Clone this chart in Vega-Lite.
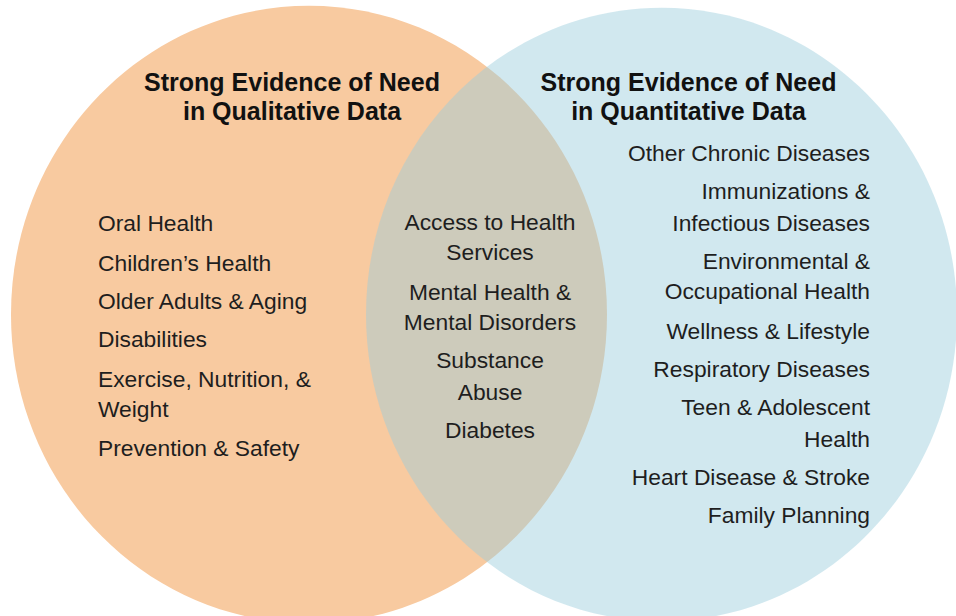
{
  "$schema": "https://vega.github.io/schema/vega-lite/v6.json",
  "width": 956,
  "height": 616,
  "autosize": {"type": "none"},
  "padding": 0,
  "background": "white",
  "config": {"view": {"stroke": null}},
  "datasets": {
    "circles": [
      {"set": "Qualitative", "cx": 309, "cy": 314.5},
      {"set": "Quantitative", "cx": 661.5, "cy": 314.5}
    ],
    "labels": [
      {"group": "title", "text": "Strong Evidence of Need", "x": 292, "y": 90.5},
      {"group": "title", "text": "in Qualitative Data", "x": 292, "y": 120},
      {"group": "title", "text": "Strong Evidence of Need", "x": 688.5, "y": 90.5},
      {"group": "title", "text": "in Quantitative Data", "x": 688.5, "y": 120},
      {"group": "left", "text": "Oral Health", "x": 98, "y": 230.5},
      {"group": "left", "text": "Children’s Health", "x": 98, "y": 270.5},
      {"group": "left", "text": "Older Adults & Aging", "x": 98, "y": 309},
      {"group": "left", "text": "Disabilities", "x": 98, "y": 347},
      {"group": "left", "text": "Exercise, Nutrition, &", "x": 98, "y": 386.5},
      {"group": "left", "text": "Weight", "x": 98, "y": 416.5},
      {"group": "left", "text": "Prevention & Safety", "x": 98, "y": 455.5},
      {"group": "center", "text": "Access to Health", "x": 490, "y": 229.5},
      {"group": "center", "text": "Services", "x": 490, "y": 259.5},
      {"group": "center", "text": "Mental Health &", "x": 490, "y": 300},
      {"group": "center", "text": "Mental Disorders", "x": 490, "y": 330},
      {"group": "center", "text": "Substance", "x": 490, "y": 368},
      {"group": "center", "text": "Abuse", "x": 490, "y": 400},
      {"group": "center", "text": "Diabetes", "x": 490, "y": 438},
      {"group": "right", "text": "Other Chronic Diseases", "x": 870, "y": 160.5},
      {"group": "right", "text": "Immunizations &", "x": 870, "y": 198.5},
      {"group": "right", "text": "Infectious Diseases", "x": 870, "y": 230.5},
      {"group": "right", "text": "Environmental &", "x": 870, "y": 268.5},
      {"group": "right", "text": "Occupational Health", "x": 870, "y": 298.5},
      {"group": "right", "text": "Wellness & Lifestyle", "x": 870, "y": 338.5},
      {"group": "right", "text": "Respiratory Diseases", "x": 870, "y": 376.5},
      {"group": "right", "text": "Teen & Adolescent", "x": 870, "y": 414.5},
      {"group": "right", "text": "Health", "x": 870, "y": 446.5},
      {"group": "right", "text": "Heart Disease & Stroke", "x": 870, "y": 484.5},
      {"group": "right", "text": "Family Planning", "x": 870, "y": 522.5}
    ]
  },
  "encoding": {
    "x": {"field": "x", "type": "quantitative", "scale": {"domain": [0, 956], "nice": false, "zero": false}, "axis": null},
    "y": {"field": "y", "type": "quantitative", "scale": {"domain": [616, 0], "nice": false, "zero": false}, "axis": null}
  },
  "layer": [
    {
      "data": {"name": "circles"},
      "transform": [{"filter": "datum.set === 'Qualitative'"}],
      "mark": {"type": "point", "shape": "M -1 0 A 1 1.036 0 1 0 1 0 A 1 1.036 0 1 0 -1 0 Z", "size": 355216, "filled": true, "color": "#f8caa0", "opacity": 1, "strokeWidth": 0},
      "encoding": {
        "x": {"field": "cx", "type": "quantitative"},
        "y": {"field": "cy", "type": "quantitative"}
      }
    },
    {
      "data": {"name": "circles"},
      "transform": [{"filter": "datum.set === 'Quantitative'"}],
      "mark": {"type": "point", "shape": "M -1 0 A 1 1.038 0 1 0 1 0 A 1 1.038 0 1 0 -1 0 Z", "size": 349281, "filled": true, "color": "#9bcddc", "opacity": 0.46, "strokeWidth": 0},
      "encoding": {
        "x": {"field": "cx", "type": "quantitative"},
        "y": {"field": "cy", "type": "quantitative"}
      }
    },
    {
      "data": {"name": "labels"},
      "transform": [{"filter": "datum.group === 'title'"}],
      "mark": {"type": "text", "font": "Liberation Sans", "fontSize": 25, "fontWeight": "bold", "align": "center", "baseline": "alphabetic", "color": "#111111"},
      "encoding": {"text": {"field": "text"}}
    },
    {
      "data": {"name": "labels"},
      "transform": [{"filter": "datum.group === 'left'"}],
      "mark": {"type": "text", "font": "Liberation Sans", "fontSize": 22.8, "align": "left", "baseline": "alphabetic", "color": "#1e1e1e"},
      "encoding": {"text": {"field": "text"}}
    },
    {
      "data": {"name": "labels"},
      "transform": [{"filter": "datum.group === 'center'"}],
      "mark": {"type": "text", "font": "Liberation Sans", "fontSize": 22.8, "align": "center", "baseline": "alphabetic", "color": "#1e1e1e"},
      "encoding": {"text": {"field": "text"}}
    },
    {
      "data": {"name": "labels"},
      "transform": [{"filter": "datum.group === 'right'"}],
      "mark": {"type": "text", "font": "Liberation Sans", "fontSize": 22.8, "align": "right", "baseline": "alphabetic", "color": "#1e1e1e"},
      "encoding": {"text": {"field": "text"}}
    }
  ]
}
